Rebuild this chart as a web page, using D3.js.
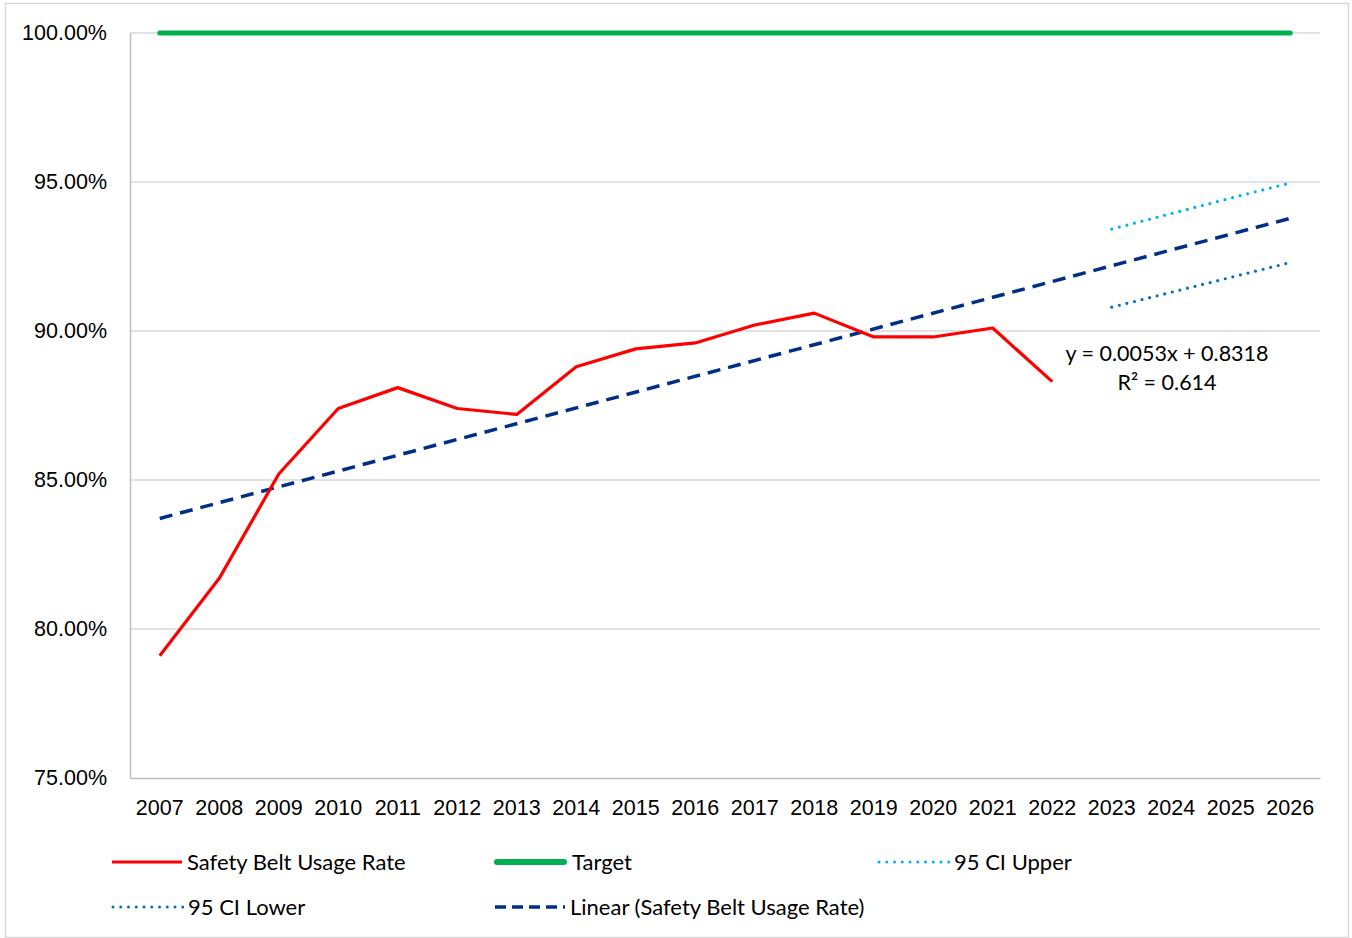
<!DOCTYPE html>
<html>
<head>
<meta charset="utf-8">
<script src="https://cdn.jsdelivr.net/npm/d3@7"></script>
<style>
  body { margin: 0; background: #fff; }
  svg { font-family: Lato, "Open Sans", sans-serif; }
</style>
</head>
<body>
<div id="chart"></div>
<script>
// Data
const years = ["2007","2008","2009","2010","2011","2012","2013","2014","2015","2016",
               "2017","2018","2019","2020","2021","2022","2023","2024","2025","2026"];
const usageYears = years.slice(0, 16);
const usageRate = [0.791, 0.817, 0.852, 0.874, 0.881, 0.874, 0.872, 0.888, 0.894, 0.896,
                   0.902, 0.906, 0.898, 0.898, 0.901, 0.883];
const targetRate = years.map(() => 1.0);
const ciYears = ["2023","2024","2025","2026"];
const ciUpper = [0.9342, 0.9394, 0.9446, 0.9497];
const ciLower = [0.9080, 0.9130, 0.9180, 0.9230];
const trendYears = ["2007","2026"];
const trendRate = [0.8371, 0.9378];
const yTicks = [0.75, 0.80, 0.85, 0.90, 0.95, 1.00];
const trendLabel = ["y = 0.0053x + 0.8318", "R² = 0.614"];

const W = 1352, H = 938;
const margin = { top: 33, right: 32, bottom: 160, left: 130 };
const width = W - margin.left - margin.right;
const height = H - margin.top - margin.bottom;

const svg = d3.select("#chart").append("svg")
  .attr("width", W).attr("height", H);

// outer chart border
svg.append("rect")
  .attr("x", 5.5).attr("y", 3.5).attr("width", W - 9).attr("height", H - 4)
  .attr("fill", "none").attr("stroke", "#d9d9d9").attr("stroke-width", 1.5);

const g = svg.append("g").attr("transform", `translate(${margin.left},${margin.top})`);

const x = d3.scaleBand().domain(years).range([0, width]);
const y = d3.scaleLinear().domain([0.75, 1.0]).range([height, 0]);
const cx = d => x(d) + x.bandwidth() / 2;

// gridlines
g.append("g")
  .selectAll("line")
  .data(yTicks.slice(1))
  .enter().append("line")
  .attr("x1", 0).attr("x2", width)
  .attr("y1", d => y(d)).attr("y2", d => y(d))
  .attr("stroke", "#d9d9d9").attr("stroke-width", 1.5);

// y axis
const yAxis = g.append("g")
  .call(d3.axisLeft(y).tickValues(yTicks).tickFormat(d3.format(".2%")).tickSize(0).tickPadding(23));
yAxis.select(".domain").attr("stroke", "#bfbfbf").attr("stroke-width", 1.5);
yAxis.selectAll("text").attr("font-size", 21.5).attr("fill", "#000");

// x axis
const xAxis = g.append("g")
  .attr("transform", `translate(0,${height})`)
  .call(d3.axisBottom(x).tickSize(0).tickPadding(22));
xAxis.select(".domain").attr("stroke", "#bfbfbf").attr("stroke-width", 1.5);
xAxis.selectAll("text").attr("font-size", 21.5).attr("fill", "#000");

const line = d3.line().x(d => cx(d[0])).y(d => y(d[1]));

// target
g.append("path")
  .datum(d3.zip(years, targetRate))
  .attr("d", line).attr("fill", "none")
  .attr("stroke", "#00b050").attr("stroke-width", 5).attr("stroke-linecap", "round");

// CI upper / lower
g.append("path")
  .datum(d3.zip(ciYears, ciUpper))
  .attr("d", line).attr("fill", "none")
  .attr("stroke", "#00b0f0").attr("stroke-width", 3.2)
  .attr("stroke-dasharray", "0 7.8").attr("stroke-linecap", "round");
g.append("path")
  .datum(d3.zip(ciYears, ciLower))
  .attr("d", line).attr("fill", "none")
  .attr("stroke", "#0070c0").attr("stroke-width", 3.2)
  .attr("stroke-dasharray", "0 7.8").attr("stroke-linecap", "round");

// trend line
g.append("path")
  .datum(d3.zip(trendYears, trendRate))
  .attr("d", line).attr("fill", "none")
  .attr("stroke", "#002f87").attr("stroke-width", 3.5)
  .attr("stroke-dasharray", "13 8");

// usage rate
g.append("path")
  .datum(d3.zip(usageYears, usageRate))
  .attr("d", line).attr("fill", "none")
  .attr("stroke", "#ff0000").attr("stroke-width", 3.2)
  .attr("stroke-linejoin", "round");

// trend label
const tl = svg.append("text")
  .attr("text-anchor", "middle").attr("font-size", 21.5).attr("fill", "#000");
tl.append("tspan").attr("x", 1167).attr("y", 361).text(trendLabel[0]);
tl.append("tspan").attr("x", 1167).attr("y", 390).text(trendLabel[1]);

// legend
const legendItems = [
  { name: "Safety Belt Usage Rate", color: "#ff0000", w: 3.2, dash: null, cap: "butt", x: 112, len: 70, y: 862 },
  { name: "Target", color: "#00b050", w: 6, dash: null, cap: "round", x: 497, len: 67, y: 862 },
  { name: "95 CI Upper", color: "#00b0f0", w: 3, dash: "0 7.75", cap: "round", x: 879, len: 71, y: 862 },
  { name: "95 CI Lower", color: "#0070c0", w: 3, dash: "0 7.75", cap: "round", x: 113, len: 71, y: 907 },
  { name: "Linear (Safety Belt Usage Rate)", color: "#002f87", w: 3.5, dash: "11 6", cap: "butt", x: 495, len: 70, y: 907 }
];
const lg = svg.append("g").selectAll("g").data(legendItems).enter().append("g")
  .attr("transform", d => `translate(${d.x},${d.y})`);
lg.append("line")
  .attr("x1", 0).attr("x2", d => d.len)
  .attr("stroke", d => d.color).attr("stroke-width", d => d.w)
  .attr("stroke-dasharray", d => d.dash).attr("stroke-linecap", d => d.cap);
lg.append("text")
  .attr("x", 75).attr("y", 8).attr("font-size", 22).attr("fill", "#000")
  .text(d => d.name);
</script>
</body>
</html>
